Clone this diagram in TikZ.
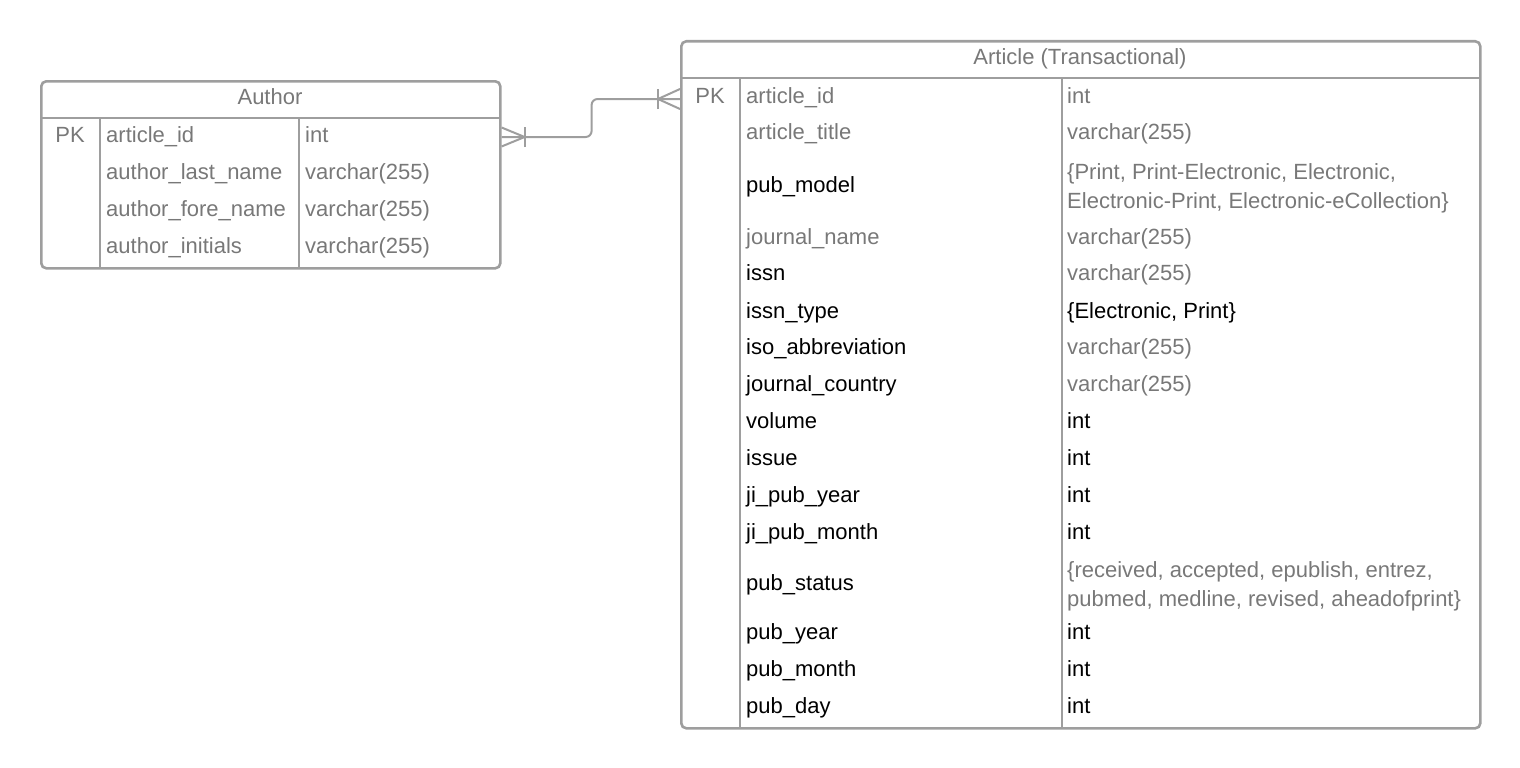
\documentclass[tikz,border=0pt]{standalone}
\usepackage{fontspec}
\setmainfont{Liberation Sans}
\definecolor{lc}{RGB}{158,158,158}
\definecolor{tg}{RGB}{120,120,120}
\definecolor{tk}{RGB}{0,0,0}
\newcommand\tfs{\fontsize{22}{29}\selectfont}
\tikzset{
  tbl/.style={draw=lc, line width=2.6pt, rounded corners=5pt, anchor=north west, inner sep=0pt},
  sep/.style={draw=lc, line width=2.6pt},
  conn/.style={draw=lc, line width=2pt},
  txt/.style={font=\tfs, anchor=base west, inner sep=0pt, align=left},
  hdr/.style={font=\tfs, anchor=base, inner sep=0pt, text=tg},
}
% \arow{id}{y}{namecolor}{name}{valuecolor}{value}
\newcommand\arow[6]{%
  \node[txt, text=#3] (an#1) at (746,#2+7.5) {#4};
  \node[txt, text=#5] (av#1) at (1067,#2+7.5) {#6};
}
\newcommand\aurow[4]{%
  \node[txt, text=tg] (un#1) at (106,#2+7.5) {#3};
  \node[txt, text=tg] (uv#1) at (305,#2+7.5) {#4};
}
\begin{document}
\begin{tikzpicture}[x=1pt, y=-1pt]
\useasboundingbox (0,0) rectangle (1520,768);

% Author table
\node[tbl, minimum width=459pt, minimum height=187pt] (author) at (40,80) {};
\draw[sep] (40,118) -- (499,118);
\draw[sep] (100,118) -- (100,267);
\draw[sep] (299,118) -- (299,267);
\node[hdr] (authorT) at (270,104.5) {Author};
\node[font=\tfs, anchor=base, inner sep=0pt, text=tg] (upk) at (70,142.5) {PK};
\aurow{1}{135}{article\_id}{int}
\aurow{2}{172}{author\_last\_name}{varchar(255)}
\aurow{3}{209}{author\_fore\_name}{varchar(255)}
\aurow{4}{246}{author\_initials}{varchar(255)}

% Article table
\node[tbl, minimum width=799pt, minimum height=687pt] (article) at (680,40) {};
\draw[sep] (680,78) -- (1479,78);
\draw[sep] (740,78) -- (740,727);
\draw[sep] (1062,78) -- (1062,727);
\node[hdr] (articleT) at (1080,64.5) {Article (Transactional)};
\node[font=\tfs, anchor=base, inner sep=0pt, text=tg] (apk) at (710,103.5) {PK};
\arow{1}{96}{tg}{article\_id}{tg}{int}
\arow{2}{132}{tg}{article\_title}{tg}{varchar(255)}
\node[txt, text=tk] (an3) at (746,192.5) {pub\_model};
\node[txt, text=tg] (av3) at (1067,208.5) {\{Print, Print-Electronic, Electronic,\\Electronic-Print, Electronic-eCollection\}};
\arow{4}{237}{tg}{journal\_name}{tg}{varchar(255)}
\arow{5}{273}{tk}{issn}{tg}{varchar(255)}
\arow{6}{311}{tk}{issn\_type}{tk}{\{Electronic, Print\}}
\arow{7}{347}{tk}{iso\_abbreviation}{tg}{varchar(255)}
\arow{8}{384}{tk}{journal\_country}{tg}{varchar(255)}
\arow{9}{421}{tk}{volume}{tk}{int}
\arow{10}{458}{tk}{issue}{tk}{int}
\arow{11}{495}{tk}{ji\_pub\_year}{tk}{int}
\arow{12}{532}{tk}{ji\_pub\_month}{tk}{int}
\node[txt, text=tk] (an13) at (746,590.5) {pub\_status};
\node[txt, text=tg] (av13) at (1067,606.5) {\{received, accepted, epublish, entrez,\\pubmed, medline, revised, aheadofprint\}};
\arow{14}{632}{tk}{pub\_year}{tk}{int}
\arow{15}{669}{tk}{pub\_month}{tk}{int}
\arow{16}{706}{tk}{pub\_day}{tk}{int}

% Connector (one-or-many on both ends)
\coordinate (ca) at (author.east |- 0,137);
\coordinate (cb) at (article.west |- 0,99);
\draw[conn, rounded corners=6pt] (ca) -- ++(90,0) |- (cb);
\draw[conn] ([yshift=-9.5pt]ca) -- ([xshift=23pt]ca) -- ([yshift=9.5pt]ca);
\draw[conn] ([xshift=23pt,yshift=-10pt]ca) -- ([xshift=23pt,yshift=10pt]ca);
\draw[conn] ([yshift=-10pt]cb) -- ([xshift=-22pt]cb) -- ([yshift=10pt]cb);
\draw[conn] ([xshift=-22pt,yshift=-10pt]cb) -- ([xshift=-22pt,yshift=10pt]cb);
\end{tikzpicture}
\end{document}
